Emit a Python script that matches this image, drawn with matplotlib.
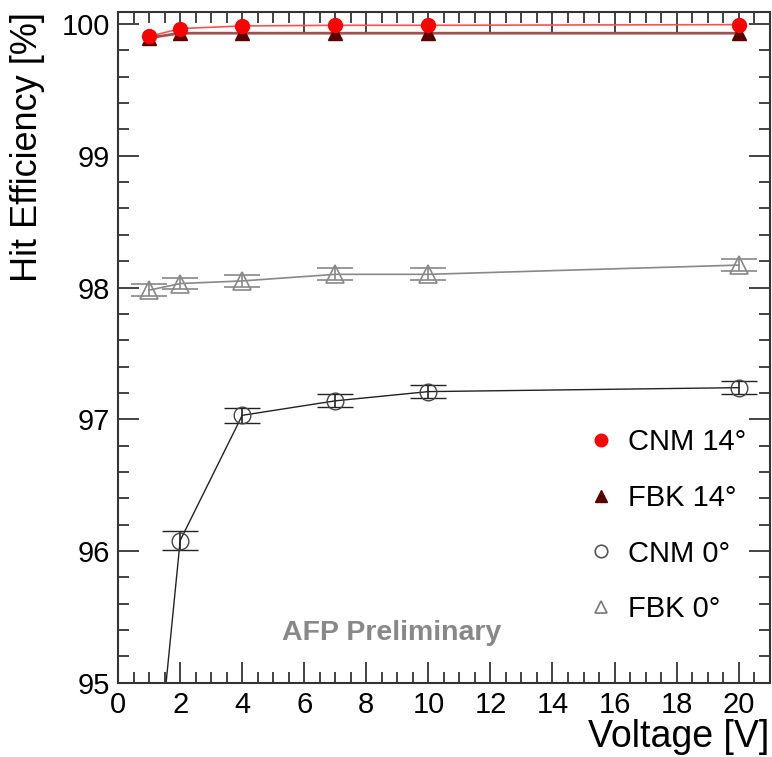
import matplotlib.pyplot as plt
from matplotlib.lines import Line2D
from matplotlib.ticker import MultipleLocator

plt.rcParams['font.family'] = ['Liberation Sans', 'DejaVu Sans']

voltage = [1, 2, 4, 7, 10, 20]

cnm14 = [99.905, 99.965, 99.985, 99.99, 99.99, 99.995]
fbk14 = [99.895, 99.93, 99.93, 99.93, 99.93, 99.93]

cnm0 = [93.70, 96.08, 97.03, 97.14, 97.21, 97.24]
cnm0_err = [0.07, 0.07, 0.055, 0.05, 0.05, 0.05]

fbk0 = [97.98, 98.03, 98.05, 98.10, 98.10, 98.17]
fbk0_err = [0.045, 0.045, 0.045, 0.045, 0.045, 0.045]

labels = ["CNM 14\u00b0", "FBK 14\u00b0", "CNM 0\u00b0", "FBK 0\u00b0"]

fig = plt.figure(figsize=(7.72, 7.57), dpi=100)
ax = fig.add_axes([0.153, 0.098, 0.844, 0.886])

# 0 degree series with error bars
ax.errorbar(voltage, fbk0, yerr=fbk0_err, color="#888888", lw=1.2,
            marker="^", ms=13, mfc="none", mec="#888888", mew=1.2,
            capsize=13, capthick=1.5, elinewidth=1.2)
ax.errorbar(voltage, cnm0, yerr=cnm0_err, color="#222222", lw=1.0,
            marker="o", ms=12, mfc="none", mec="#444444", mew=1.0,
            capsize=13, capthick=1.5, elinewidth=1.2)

# 14 degree series
ax.plot(voltage, fbk14, color="#a05050", lw=2.0, marker="^", ms=10,
        mfc="#5a0000", mec="#5a0000")
ax.plot(voltage, cnm14, color="#ff5050", lw=1.2, marker="o", ms=10,
        mfc="#ff0000", mec="#ff0000")

ax.set_xlim(0, 21)
ax.set_ylim(95, 100.09)

ax.xaxis.set_major_locator(MultipleLocator(2))
ax.xaxis.set_minor_locator(MultipleLocator(0.5))
ax.yaxis.set_major_locator(MultipleLocator(1))
ax.yaxis.set_minor_locator(MultipleLocator(0.2))
ax.tick_params(which="both", direction="in", top=True, right=True,
               labelsize=21, width=1.2, color="#222222")
ax.tick_params(which="major", length=15, pad=6)
ax.tick_params(which="minor", length=8)
for s in ax.spines.values():
    s.set_linewidth(1.5)
    s.set_color("#333333")

ax.set_xlabel("Voltage [V]", fontsize=27, loc="right", labelpad=0)
ax.set_ylabel("Hit Efficiency [%]", fontsize=26, loc="top", labelpad=12)

ax.text(0.42, 0.074, "AFP Preliminary", transform=ax.transAxes,
        fontsize=20.5, fontweight="bold", color="#888888", va="center", ha="center")

# legend: markers only
handles = [
    Line2D([], [], ls="none", marker="o", ms=9, mfc="#ff0000", mec="#ff0000"),
    Line2D([], [], ls="none", marker="^", ms=9, mfc="#5a0000", mec="#5a0000"),
    Line2D([], [], ls="none", marker="o", ms=9, mfc="none", mec="#555555", mew=1.2),
    Line2D([], [], ls="none", marker="^", ms=9, mfc="none", mec="#777777", mew=1.2),
]
ax.legend(handles, labels, loc="upper left", bbox_to_anchor=(0.689, 0.397),
          frameon=False, fontsize=21, labelspacing=0.95, handletextpad=0.2,
          handlelength=1.5, borderaxespad=0)

fig.savefig("out.png", dpi=100)
